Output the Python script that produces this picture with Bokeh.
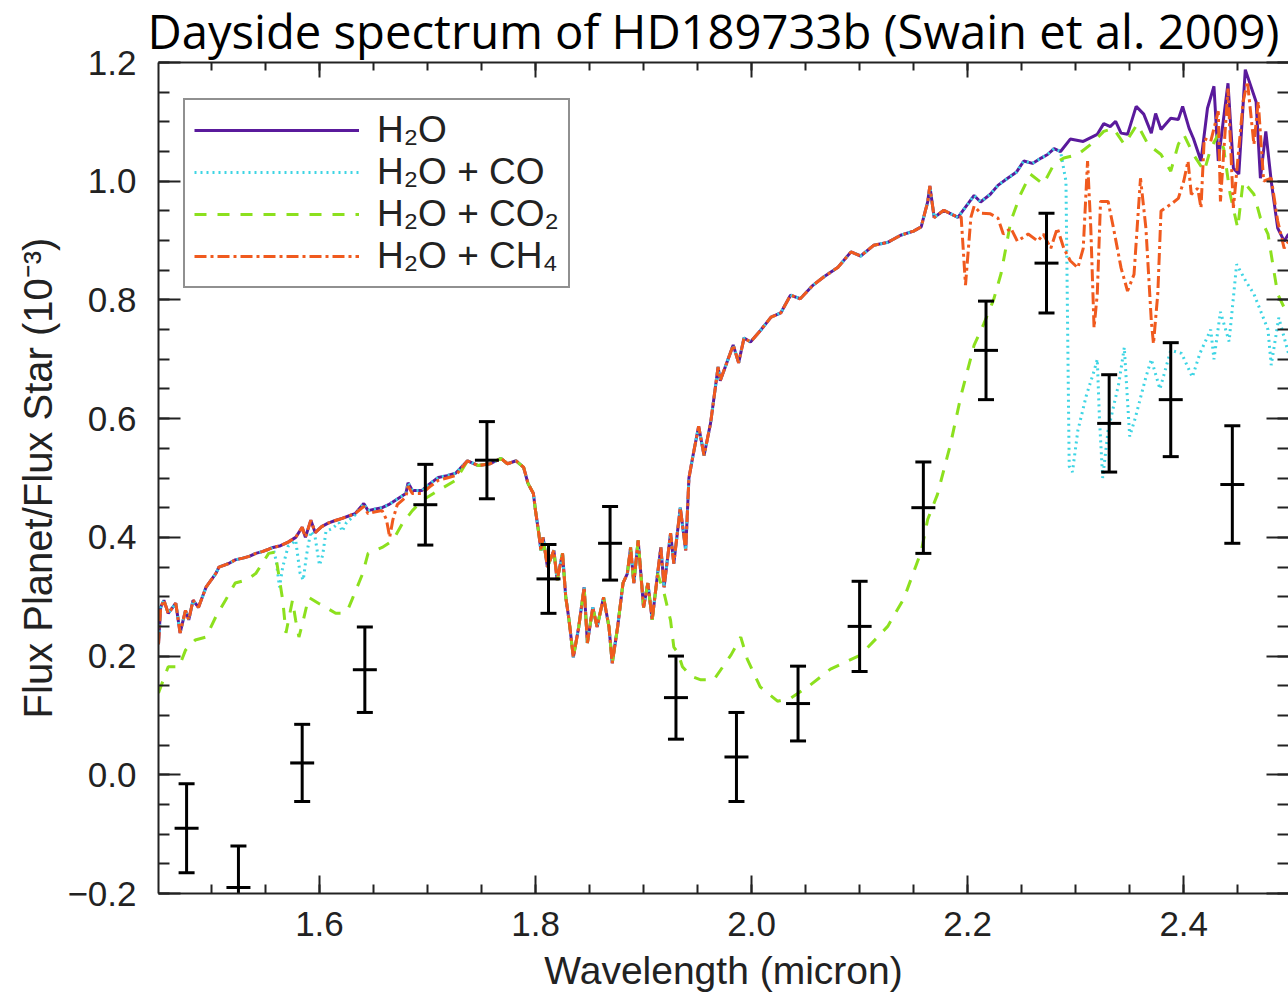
from bokeh.plotting import figure
from bokeh.models import (Range1d, LinearAxis, FixedTicker, CustomJSTickFormatter,
                          Legend, LegendItem)
from bokeh.embed import file_html
from bokeh.resources import INLINE

# ---------------- data (wavelength in micron, flux ratio in 1e-3) ----------------
# shared H2O-model segments
wl_a = [1.451, 1.453, 1.456, 1.460, 1.467, 1.471, 1.476, 1.479, 1.483, 1.488, 1.495, 1.504, 1.507,
        1.516, 1.522, 1.529, 1.535, 1.541, 1.547, 1.553]
fx_a = [0.220, 0.282, 0.294, 0.272, 0.289, 0.239, 0.277, 0.261, 0.294, 0.282, 0.316, 0.339, 0.350,
        0.356, 0.362, 0.365, 0.368, 0.373, 0.376, 0.380]

wl_b = [1.557, 1.564, 1.571, 1.578, 1.584, 1.587, 1.592, 1.596, 1.602, 1.608, 1.614, 1.621, 1.627, 1.633]
fx_b = [0.383, 0.386, 0.392, 0.400, 0.417, 0.400, 0.429, 0.408, 0.418, 0.424, 0.428, 0.432, 0.436, 0.440]

wl_c = [1.641, 1.645, 1.652, 1.658, 1.664, 1.670, 1.675, 1.680, 1.682, 1.686, 1.695, 1.702, 1.710, 1.718, 1.726]
fx_c = [0.457, 0.445, 0.448, 0.450, 0.455, 0.462, 0.468, 0.474, 0.492, 0.479, 0.479, 0.490, 0.501, 0.504, 0.508]

wl_d1 = [1.737, 1.747, 1.758, 1.768, 1.774, 1.782, 1.789, 1.793, 1.798, 1.800, 1.803, 1.805, 1.807, 1.811,
         1.817, 1.820, 1.825, 1.828, 1.831, 1.835, 1.840, 1.845, 1.848, 1.853, 1.857, 1.863, 1.868, 1.871,
         1.876, 1.881, 1.885, 1.888, 1.891, 1.895, 1.900, 1.904, 1.908, 1.913]
fx_d1 = [0.529, 0.521, 0.524, 0.533, 0.524, 0.529, 0.518, 0.491, 0.474, 0.445, 0.407, 0.378, 0.400, 0.350,
         0.378, 0.328, 0.373, 0.299, 0.261, 0.198, 0.249, 0.316, 0.222, 0.282, 0.249, 0.299, 0.249, 0.188,
         0.249, 0.323, 0.339, 0.383, 0.323, 0.395, 0.282, 0.323, 0.261, 0.339]

wl_d2 = [1.916, 1.919, 1.925, 1.928, 1.934, 1.939, 1.942, 1.946, 1.951, 1.956, 1.962, 1.969, 1.971, 1.978,
         1.983, 1.988, 1.993, 1.999, 2.008, 2.018, 2.027, 2.036, 2.045, 2.057, 2.067, 2.080, 2.092, 2.101,
         2.113, 2.126, 2.138, 2.150, 2.157, 2.163, 2.165, 2.169, 2.178, 2.191]
fx_d2 = [0.383, 0.316, 0.407, 0.356, 0.450, 0.378, 0.500, 0.540, 0.587, 0.538, 0.592, 0.687, 0.664, 0.699,
         0.724, 0.694, 0.736, 0.729, 0.748, 0.771, 0.778, 0.808, 0.802, 0.825, 0.839, 0.855, 0.881, 0.874,
         0.892, 0.897, 0.909, 0.916, 0.923, 0.965, 0.992, 0.939, 0.951, 0.939]

wl_e1 = [2.206, 2.212, 2.221, 2.228, 2.237, 2.245, 2.252, 2.260, 2.268, 2.274, 2.280, 2.286]
fx_e1 = [0.976, 0.965, 0.978, 0.993, 1.005, 1.015, 1.034, 1.030, 1.039, 1.045, 1.055, 1.050]

wl_e2 = [2.295, 2.307, 2.320, 2.326, 2.332, 2.337, 2.342, 2.348, 2.356, 2.363, 2.370, 2.374, 2.379, 2.388,
         2.395, 2.399, 2.405, 2.409, 2.416, 2.422, 2.428, 2.432, 2.441, 2.446, 2.451, 2.457, 2.467, 2.471,
         2.476, 2.481, 2.487, 2.493, 2.497]
fx_e2 = [1.071, 1.067, 1.079, 1.097, 1.092, 1.101, 1.081, 1.079, 1.126, 1.113, 1.081, 1.114, 1.087, 1.106,
         1.104, 1.126, 1.089, 1.072, 1.034, 1.123, 1.160, 1.034, 1.165, 1.022, 1.012, 1.188, 1.134, 1.005,
         1.084, 1.000, 0.921, 0.899, 0.911]

# H2O + CO departures
wl_co_b = [1.557, 1.560, 1.563, 1.566, 1.571, 1.578, 1.582, 1.585, 1.588, 1.592, 1.596, 1.600, 1.603,
           1.606, 1.612, 1.618, 1.621, 1.625, 1.633]
fx_co_b = [0.383, 0.360, 0.316, 0.350, 0.385, 0.395, 0.340, 0.328, 0.370, 0.410, 0.400, 0.353, 0.370,
           0.410, 0.415, 0.425, 0.410, 0.425, 0.438]
wl_co_tail = [2.291, 2.294, 2.297, 2.302, 2.310, 2.317, 2.320, 2.322, 2.325, 2.330, 2.340, 2.345, 2.350,
              2.355, 2.365, 2.370, 2.378, 2.388, 2.398, 2.408, 2.415, 2.425, 2.428, 2.434, 2.442, 2.449,
              2.458, 2.465, 2.478, 2.481, 2.488, 2.497]
fx_co_tail = [1.000, 0.520, 0.510, 0.580, 0.640, 0.680, 0.700, 0.600, 0.500, 0.580, 0.660, 0.720, 0.570,
              0.600, 0.670, 0.700, 0.650, 0.715, 0.710, 0.670, 0.710, 0.750, 0.700, 0.780, 0.730, 0.860,
              0.830, 0.810, 0.750, 0.690, 0.770, 0.710]

# H2O + CO2 departures
wl_co2_head = [1.451, 1.460, 1.470, 1.476, 1.485, 1.495, 1.504, 1.513, 1.522, 1.532, 1.541, 1.547, 1.553,
               1.559, 1.566, 1.569, 1.575, 1.578, 1.581, 1.585, 1.590, 1.599, 1.606, 1.615, 1.621, 1.626,
               1.631, 1.640, 1.645, 1.658, 1.668, 1.677, 1.686, 1.695, 1.710, 1.726]
fx_co2_head = [0.138, 0.182, 0.182, 0.210, 0.227, 0.232, 0.266, 0.294, 0.323, 0.328, 0.339, 0.356, 0.373,
               0.375, 0.294, 0.239, 0.294, 0.260, 0.232, 0.260, 0.299, 0.289, 0.282, 0.272, 0.272, 0.277,
               0.299, 0.339, 0.373, 0.383, 0.395, 0.424, 0.445, 0.462, 0.479, 0.496]
wl_co2_tail = [1.919, 1.925, 1.928, 1.932, 1.936, 1.944, 1.953, 1.965, 1.981, 1.990, 1.996, 2.008, 2.024,
               2.036, 2.052, 2.073, 2.101, 2.126, 2.141, 2.157, 2.163, 2.172, 2.184, 2.194, 2.206, 2.215,
               2.224, 2.231, 2.240, 2.249, 2.258, 2.270, 2.280, 2.289, 2.302, 2.314, 2.326, 2.335, 2.345,
               2.357, 2.367, 2.379, 2.388, 2.395, 2.400, 2.409, 2.419, 2.425, 2.432, 2.437, 2.443, 2.450,
               2.455, 2.465, 2.471, 2.478, 2.483, 2.487, 2.493, 2.497]
fx_co2_tail = [0.306, 0.260, 0.215, 0.205, 0.182, 0.166, 0.160, 0.160, 0.202, 0.232, 0.195, 0.148, 0.124,
               0.129, 0.148, 0.178, 0.202, 0.250, 0.297, 0.376, 0.430, 0.472, 0.556, 0.640, 0.724, 0.760,
               0.800, 0.845, 0.933, 0.978, 1.012, 0.995, 1.029, 1.039, 1.045, 1.062, 1.084, 1.089, 1.062,
               1.096, 1.062, 1.045, 1.017, 1.062, 1.079, 1.045, 1.017, 1.055, 1.079, 1.055, 0.978, 0.921,
               1.000, 0.978, 0.938, 0.911, 0.854, 0.810, 0.787, 0.798]

# H2O + CH4 departures
wl_ch4_c = [1.641, 1.645, 1.652, 1.658, 1.662, 1.665, 1.668, 1.672, 1.680, 1.682, 1.686, 1.695, 1.702,
            1.710, 1.718, 1.726]
fx_ch4_c = [0.452, 0.440, 0.443, 0.445, 0.430, 0.400, 0.430, 0.455, 0.468, 0.486, 0.474, 0.474, 0.485,
            0.496, 0.500, 0.504]
wl_ch4_tail = [2.194, 2.198, 2.203, 2.206, 2.212, 2.221, 2.228, 2.233, 2.240, 2.246, 2.256, 2.265, 2.270,
               2.277, 2.283, 2.289, 2.295, 2.302, 2.307, 2.311, 2.314, 2.317, 2.320, 2.323, 2.330, 2.335,
               2.342, 2.348, 2.354, 2.360, 2.365, 2.370, 2.372, 2.376, 2.379, 2.388, 2.395, 2.400, 2.404,
               2.407, 2.413, 2.416, 2.419, 2.425, 2.432, 2.434, 2.441, 2.446, 2.455, 2.459, 2.465, 2.469,
               2.474, 2.481, 2.487, 2.493, 2.497]
fx_ch4_tail = [0.940, 0.825, 0.939, 0.958, 0.946, 0.945, 0.938, 0.911, 0.921, 0.899, 0.911, 0.899, 0.911,
               0.887, 0.921, 0.887, 0.866, 0.854, 0.887, 1.034, 0.921, 0.753, 0.810, 0.966, 0.966, 0.921,
               0.854, 0.815, 0.843, 1.005, 0.921, 0.765, 0.726, 0.810, 0.950, 0.961, 0.971, 1.000, 1.034,
               0.978, 0.988, 0.955, 1.072, 1.067, 1.118, 0.966, 1.156, 0.955, 1.134, 1.168, 1.062, 1.134,
               1.000, 1.005, 0.933, 0.887, 0.899]

# observed dayside points with 1-sigma errors
obs_wl = [1.477, 1.525, 1.584, 1.642, 1.698, 1.755, 1.812, 1.869, 1.930, 1.986, 2.043, 2.100, 2.159,
          2.217, 2.273, 2.331, 2.388, 2.445]
obs_fx = [-0.090, -0.190, 0.020, 0.177, 0.455, 0.530, 0.330, 0.390, 0.130, 0.030, 0.120, 0.250, 0.450,
          0.715, 0.862, 0.592, 0.632, 0.489]
obs_err = [0.075, 0.070, 0.065, 0.072, 0.068, 0.065, 0.058, 0.062, 0.070, 0.075, 0.063, 0.076, 0.077,
           0.083, 0.084, 0.082, 0.096, 0.099]

series_labels = ["H\u2082O", "H\u2082O + CO", "H\u2082O + CO\u2082", "H\u2082O + CH\u2084"]
x_major_ticks = [1.6, 1.8, 2.0, 2.2, 2.4]
y_major_ticks = [-0.2, 0.0, 0.2, 0.4, 0.6, 0.8, 1.0, 1.2]
x_minor_ticks = [round(1.45 + 0.05 * i, 2) for i in range(21)]
y_minor_ticks = [round(-0.2 + 0.05 * i, 2) for i in range(29)]


def join(*parts):
    out = []
    for part in parts:
        out += part
    return out


h2o_wl = join(wl_a, wl_b, wl_c, wl_d1, wl_d2, wl_e1, wl_e2)
h2o_fx = join(fx_a, fx_b, fx_c, fx_d1, fx_d2, fx_e1, fx_e2)
co_wl = join(wl_a, wl_co_b, wl_c, wl_d1, wl_d2, wl_e1, wl_co_tail)
co_fx = join(fx_a, fx_co_b, fx_c, fx_d1, fx_d2, fx_e1, fx_co_tail)
co2_wl = join(wl_co2_head, wl_d1, wl_co2_tail)
co2_fx = join(fx_co2_head, fx_d1, fx_co2_tail)
ch4_wl = join(wl_a, wl_b, wl_ch4_c, wl_d1, wl_d2, wl_ch4_tail)
ch4_fx = join(fx_a, fx_b, fx_ch4_c, fx_d1, fx_d2, fx_ch4_tail)

obs_lo = [v - e for v, e in zip(obs_fx, obs_err)]
obs_hi = [v + e for v, e in zip(obs_fx, obs_err)]

# ---------------- figure ----------------
SANS = "Liberation Sans"
INK = "#222222"
p = figure(width=1288, height=996, x_range=Range1d(1.451, 2.497), y_range=Range1d(-0.2, 1.2),
           output_backend="svg", toolbar_location=None,
           x_axis_location=None, y_axis_location=None,
           min_border_left=158, min_border_right=0, min_border_top=62, min_border_bottom=103,
           title="Dayside spectrum of HD189733b (Swain et al. 2009)")
p.outline_line_color = None
p.grid.visible = False
p.background_fill_color = "white"
p.border_fill_color = "white"

p.title.text_font = "Open Sans"
p.title.text_font_size = "47.2px"
p.title.text_font_style = "normal"
p.title.text_color = "black"
p.title.align = "left"
p.title.offset = -11
p.title.vertical_align = "top"
p.title.standoff = -4

fmt = CustomJSTickFormatter(code="return tick.toFixed(1).replace('-', '\\u2212');")
blank = CustomJSTickFormatter(code="return '';")


def make_axis(major, minor, tick_in, minor_in, labels=True):
    ax = LinearAxis(ticker=FixedTicker(ticks=major, minor_ticks=minor),
                    formatter=fmt if labels else blank)
    ax.major_tick_in = tick_in
    ax.major_tick_out = 0
    ax.minor_tick_in = minor_in
    ax.minor_tick_out = 0
    ax.axis_line_width = 2
    ax.major_tick_line_width = 2
    ax.minor_tick_line_width = 2
    ax.axis_line_color = INK
    ax.major_tick_line_color = INK
    ax.minor_tick_line_color = INK
    if labels:
        ax.major_label_text_font = SANS
        ax.major_label_text_font_size = "35px"
        ax.major_label_text_color = INK
        ax.axis_label_text_font = SANS
        ax.axis_label_text_font_style = "normal"
        ax.axis_label_text_color = INK
    else:
        ax.major_label_standoff = 0
        ax.major_label_text_font_size = "0px"
    return ax


xb = make_axis(x_major_ticks, x_minor_ticks, 18, 9)
xb.axis_label = "Wavelength (micron)"
xb.axis_label_text_font_size = "39px"
xb.major_label_standoff = 18
xb.axis_label_standoff = 10
p.add_layout(xb, "below")

xt = make_axis(x_major_ticks, x_minor_ticks, 15, 8, labels=False)
p.add_layout(xt, "above")

yl = make_axis(y_major_ticks, y_minor_ticks, 22, 11)
yl.axis_label = "Flux Planet/Flux Star (10\u207b\u00b3)"
yl.axis_label_text_font_size = "40px"
yl.major_label_standoff = 22
yl.axis_label_standoff = 4
p.add_layout(yl, "left")

yr = make_axis(y_major_ticks, y_minor_ticks, 22, 11, labels=False)
yr.axis_line_color = None
p.add_layout(yr, "right")

# model spectra
r_h2o = p.line(h2o_wl, h2o_fx, line_color="#5a1a9c", line_width=3)
r_co = p.line(co_wl, co_fx, line_color="#3ed5e4", line_width=3, line_dash="2 4")
r_co2 = p.line(co2_wl, co2_fx, line_color="#8ce01e", line_width=3, line_dash="12 11")
r_ch4 = p.line(ch4_wl, ch4_fx, line_color="#f05a1e", line_width=3, line_dash="12 4 3 4")

# observations with error bars
p.segment(obs_wl, obs_lo, obs_wl, obs_hi, line_color="black", line_width=3)
p.scatter(obs_wl, obs_lo, marker="dash", size=16, line_color="black", line_width=3)
p.scatter(obs_wl, obs_hi, marker="dash", size=16, line_color="black", line_width=3)
p.scatter(obs_wl, obs_fx, marker="dash", size=24, line_color="black", line_width=3)

legend = Legend(items=[LegendItem(label=series_labels[0], renderers=[r_h2o]),
                       LegendItem(label=series_labels[1], renderers=[r_co]),
                       LegendItem(label=series_labels[2], renderers=[r_co2]),
                       LegendItem(label=series_labels[3], renderers=[r_ch4])],
                location=(25, 605), orientation="vertical")
legend.border_line_color = INK
legend.border_line_width = 2
legend.background_fill_color = "white"
legend.background_fill_alpha = 1
legend.padding = 9
legend.margin = 0
legend.spacing = 0
legend.glyph_width = 165
legend.glyph_height = 30
legend.label_height = 30
legend.label_standoff = 18
legend.label_text_font = SANS
legend.label_text_font_size = "37px"
legend.label_text_color = INK
legend.label_text_baseline = "middle"
p.add_layout(legend)

open("out.html", "w").write(file_html(p, INLINE))
